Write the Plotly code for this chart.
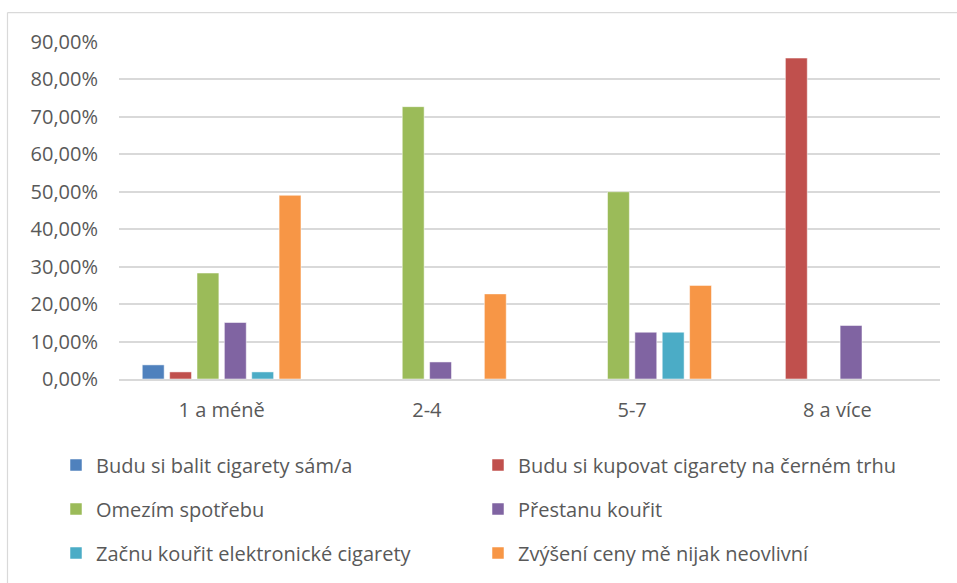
import plotly.graph_objects as go

categories = ["1 a méně", "2-4", "5-7", "8 a více"]

series_names = [
    "Budu si balit cigarety sám/a",
    "Budu si kupovat cigarety na černém trhu",
    "Omezím spotřebu",
    "Přestanu kouřit",
    "Začnu kouřit elektronické cigarety",
    "Zvýšení ceny mě nijak neovlivní",
]

balit = [0.0377, 0.0, 0.0, 0.0]
cerny_trh = [0.0189, 0.0, 0.0, 0.8571]
omezim = [0.2830, 0.7273, 0.50, 0.0]
prestanu = [0.1509, 0.0455, 0.125, 0.1429]
e_cigarety = [0.0189, 0.0, 0.125, 0.0]
neovlivni = [0.4906, 0.2273, 0.25, 0.0]

series_values = [balit, cerny_trh, omezim, prestanu, e_cigarety, neovlivni]
colors = ["#4f81bd", "#c0504d", "#9bbb59", "#8064a2", "#4bacc6", "#f79646"]

y_ticks = [i / 10 for i in range(10)]
y_tick_labels = [f"{i * 10},00%" for i in range(10)]

W, H = 957, 583
L, R, T, B = 119, 17, 42, 203
PW, PH = W - L - R, H - T - B


def px_x(px):
    return (px - L) / PW


def px_y(py):
    return (H - B - py) / PH


legend_ids = ["legend", "legend2", "legend3"]

fig = go.Figure()
for i, (name, vals, col) in enumerate(zip(series_names, series_values, colors)):
    fig.add_trace(go.Bar(
        x=categories, y=vals, name=name,
        marker=dict(color=col, line=dict(color="rgba(255,255,255,0.5)", width=1)),
        legend=legend_ids[i // 2],
        hovertemplate="%{x}: %{y:.2%}<extra>" + name + "</extra>",
    ))

font_family = "Open Sans, Liberation Sans, sans-serif"
text_color = "#595959"
fs = 20

legend_common = dict(
    orientation="h",
    xanchor="left", yanchor="middle",
    entrywidth=377, entrywidthmode="pixels",
    font=dict(family=font_family, size=fs, color=text_color),
    bgcolor="rgba(0,0,0,0)",
    traceorder="normal",
)
row_y = [465, 509, 553]

fig.update_layout(
    width=W, height=H,
    margin=dict(l=L, r=R, t=T, b=B),
    paper_bgcolor="white", plot_bgcolor="white",
    barmode="group", bargap=0.2, bargroupgap=0.2,
    font=dict(family=font_family, size=fs, color=text_color),
    xaxis=dict(
        showline=True, linecolor="#d9d9d9", linewidth=1.5,
        showgrid=False, ticks="", ticklabelstandoff=12,
        tickfont=dict(family=font_family, size=fs, color=text_color),
        fixedrange=True,
    ),
    yaxis=dict(
        range=[0, 0.9], tickvals=y_ticks, ticktext=y_tick_labels,
        showgrid=True, gridcolor="#d9d9d9", gridwidth=1.5,
        zeroline=False, showline=False, ticks="",
        ticklabelstandoff=20,
        tickfont=dict(family=font_family, size=fs, color=text_color),
        fixedrange=True,
    ),
    legend=dict(x=px_x(56), y=px_y(row_y[0]), **legend_common),
    legend2=dict(x=px_x(56), y=px_y(row_y[1]), **legend_common),
    legend3=dict(x=px_x(56), y=px_y(row_y[2]), **legend_common),
    shapes=[
        dict(type="line", xref="paper", yref="paper",
             x0=px_x(7.5), x1=px_x(W + 5), y0=px_y(12.5), y1=px_y(12.5),
             line=dict(color="#d9d9d9", width=1.2)),
        dict(type="line", xref="paper", yref="paper",
             x0=px_x(7.5), x1=px_x(7.5), y0=px_y(12.5), y1=px_y(H + 5),
             line=dict(color="#d9d9d9", width=1.2)),
    ],
)

fig.write_html("out.html")
